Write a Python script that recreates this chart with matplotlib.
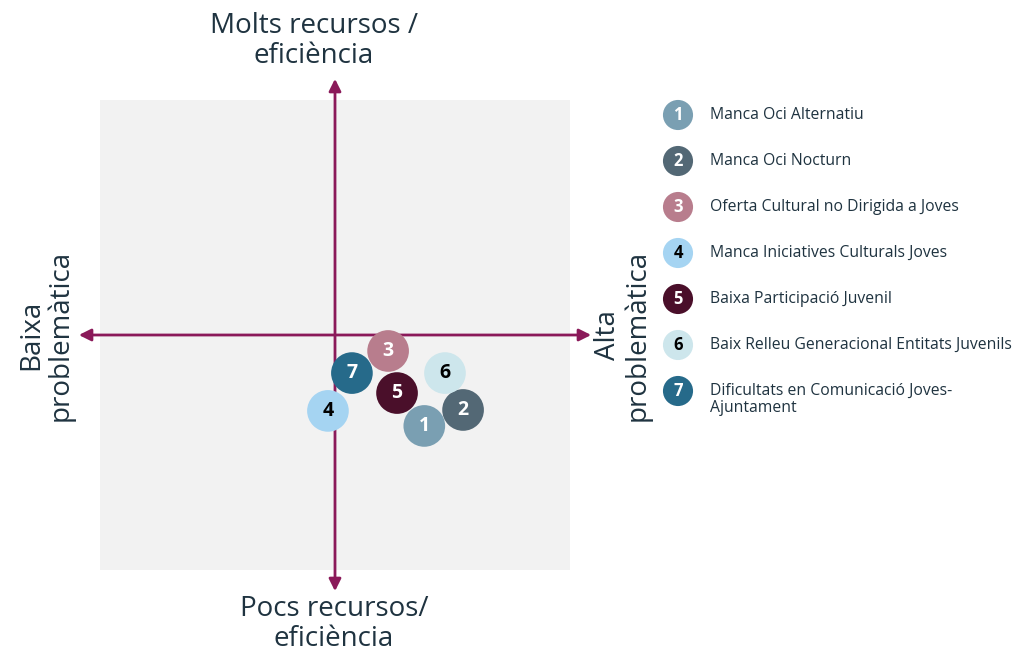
import matplotlib
matplotlib.use('Agg')
import matplotlib.pyplot as plt

plt.rcParams['font.family'] = ['Open Sans', 'DejaVu Sans']

# dades
ids = ['1', '2', '3', '4', '5', '6', '7']
noms = ['Manca Oci Alternatiu', 'Manca Oci Nocturn', 'Oferta Cultural no Dirigida a Joves',
        'Manca Iniciatives Culturals Joves', 'Baixa Participació Juvenil',
        'Baix Relleu Generacional Entitats Juvenils',
        'Dificultats en Comunicació Joves-\nAjuntament']
problematica = [0.38, 0.545, 0.226, -0.03, 0.264, 0.468, 0.072]
recursos = [-0.387, -0.319, -0.068, -0.323, -0.247, -0.162, -0.162]
colors = ['#7a9fb2', '#536875', '#b87d8d', '#a5d4f2', '#4a0f2a', '#cde6ec', '#266a8a']
text_colors = ['white', 'white', 'white', 'black', 'white', 'black', 'white']

eix = '#8b1a5a'
txt = '#1f3340'

W, H = 1029, 658
fig = plt.figure(figsize=(W / 100, H / 100), dpi=100)

ax = fig.add_axes([100 / W, (H - 570) / H, 470 / W, 470 / H])
ax.set_facecolor('#f2f2f2')
ax.set_xlim(-1, 1)
ax.set_ylim(-1, 1)
for s in ax.spines.values():
    s.set_visible(False)
ax.set_xticks([])
ax.set_yticks([])

# eixos amb fletxes
arrow = dict(arrowstyle='<|-|>', color=eix, lw=2, mutation_scale=18, shrinkA=0, shrinkB=0)
ax.annotate('', xy=(-1.09, 0), xytext=(1.09, 0), arrowprops=arrow, annotation_clip=False)
ax.annotate('', xy=(0, -1.09), xytext=(0, 1.09), arrowprops=arrow, annotation_clip=False)

ax.scatter(problematica, recursos, s=900, c=colors, zorder=3, clip_on=False, linewidths=0)
for x, y, i, tc in zip(problematica, recursos, ids, text_colors):
    ax.text(x, y, i, ha='center', va='center', color=tc, fontsize=14, fontweight='bold', zorder=4)

# etiquetes dels eixos
eti = dict(ha='center', va='center', fontsize=20, color=txt, linespacing=1.07)
fig.text(314 / W, 1 - 41 / H, 'Molts recursos /\neficiència', **eti)
fig.text(334 / W, 1 - 624 / H, 'Pocs recursos/\neficiència', **eti)
fig.text(46 / W, 1 - 335 / H, 'Baixa\nproblemàtica', rotation=90, **eti)
fig.text(623 / W, 1 - 335 / H, 'Alta\nproblemàtica', rotation=90, **eti)

# llegenda
lg = fig.add_axes([0, 0, 1, 1], facecolor='none')
lg.set_xlim(0, W)
lg.set_ylim(H, 0)
lg.axis('off')
ly = [115 + 46 * k for k in range(len(ids))]
lg.scatter([678] * len(ids), ly, s=470, c=colors, linewidths=0)
for y, i, n, tc in zip(ly, ids, noms, text_colors):
    lg.text(678, y, i, ha='center', va='center', color=tc, fontsize=12, fontweight='bold')
    lg.text(710, y - 8, n, ha='left', va='top', color=txt, fontsize=11.3, linespacing=1.05)

fig.savefig('out.png', dpi=100)
